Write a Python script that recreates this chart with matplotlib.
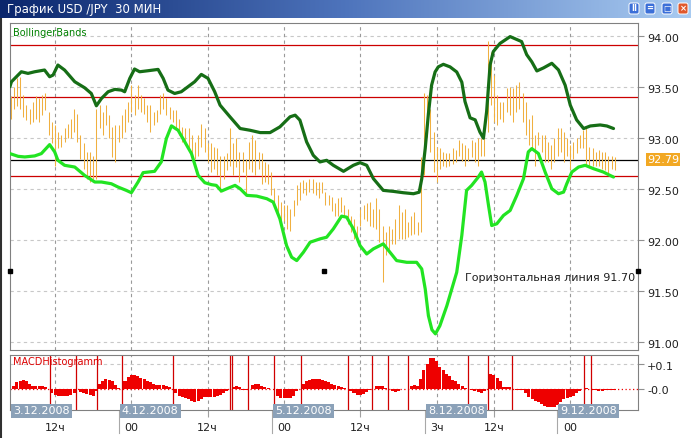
#!/usr/bin/env python3

# plotting
import matplotlib
matplotlib.use("Agg")
import numpy as np
import matplotlib.pyplot as plt
import matplotlib.transforms as mtransforms
from matplotlib.colors import LinearSegmentedColormap
from matplotlib.patches import FancyBboxPatch

## OUTPUT
OUTPUT = "out.png"
W, H = 691, 438

## DATA
# 30 minute bars (high / low), one entry per bar
bar_high = [93.41, 93.50, 93.59, 93.60, 93.42, 93.33, 93.29, 93.36, 93.41, 93.39,
            93.42, 93.44, 93.26, 93.16, 93.13, 93.06, 93.03, 93.10, 93.14, 93.19,
            93.29, 93.24, 93.03, 92.95, 92.86, 92.86, 92.83, 93.29, 93.33, 93.26,
            93.33, 93.23, 93.11, 93.13, 93.13, 93.23, 93.29, 93.36, 93.52, 93.42,
            93.52, 93.42, 93.39, 93.33, 93.33, 93.26, 93.28, 93.42, 93.44, 93.39,
            93.31, 93.28, 93.28, 93.19, 93.11, 93.10, 93.10, 93.03, 92.96, 93.03,
            93.14, 93.10, 92.95, 92.95, 92.91, 92.90, 92.83, 92.83, 92.85, 93.10,
            92.95, 93.00, 92.86, 92.86, 92.80, 92.96, 93.03, 92.98, 92.86, 92.85,
            92.77, 92.75, 92.67, 92.51, 92.44, 92.37, 92.34, 92.34, 92.31, 92.39,
            92.54, 92.57, 92.59, 92.57, 92.60, 92.60, 92.57, 92.57, 92.57, 92.47,
            92.44, 92.42, 92.36, 92.41, 92.42, 92.34, 92.31, 92.24, 92.21, 92.14,
            92.31, 92.34, 92.36, 92.37, 92.31, 92.41, 92.31, 92.14, 92.08, 92.14,
            92.11, 92.21, 92.34, 92.28, 92.31, 92.18, 92.24, 92.28, 92.18, 92.82,
            93.44, 93.42, 93.29, 93.06, 92.91, 92.90, 92.86, 92.85, 92.85, 92.90,
            92.88, 92.98, 92.95, 92.93, 92.90, 92.98, 92.96, 93.00, 93.00, 93.00,
            93.95, 93.85, 93.62, 93.42, 93.36, 93.36, 93.49, 93.50, 93.49, 93.52,
            93.55, 93.44, 93.36, 93.19, 93.23, 93.03, 93.06, 93.03, 93.03, 92.96,
            92.93, 93.00, 93.10, 93.10, 93.06, 93.00, 92.93, 92.96, 93.00, 93.03,
            93.08, 93.10, 92.91, 92.90, 92.86, 92.88, 92.86, 92.86, 92.83, 92.83,
            92.82]
bar_low = [93.19, 93.29, 93.32, 93.29, 93.21, 93.18, 93.14, 93.16, 93.19, 93.16,
           93.23, 93.28, 93.03, 92.95, 92.73, 92.90, 92.91, 92.96, 93.00, 93.00,
           93.06, 92.96, 92.80, 92.70, 92.60, 92.57, 92.60, 92.60, 93.10, 93.03,
           93.13, 93.00, 92.82, 92.77, 92.96, 93.00, 93.06, 93.16, 93.26, 93.23,
           93.29, 93.26, 93.24, 93.16, 93.06, 93.13, 93.16, 93.24, 93.29, 93.23,
           93.19, 93.16, 93.10, 93.03, 92.96, 92.95, 92.90, 92.83, 92.80, 92.83,
           92.91, 92.86, 92.77, 92.67, 92.70, 92.64, 92.47, 92.60, 92.69, 92.73,
           92.64, 92.72, 92.57, 92.67, 92.46, 92.70, 92.67, 92.64, 92.70, 92.55,
           92.57, 92.55, 92.44, 92.34, 92.24, 92.18, 92.19, 92.11, 92.09, 92.24,
           92.34, 92.39, 92.46, 92.44, 92.47, 92.46, 92.44, 92.41, 92.46, 92.34,
           92.34, 92.29, 92.24, 92.24, 92.28, 92.23, 92.16, 92.08, 92.01, 91.98,
           92.14, 92.21, 92.19, 92.14, 92.13, 92.11, 91.98, 91.59, 91.85, 91.91,
           91.96, 91.96, 92.01, 92.01, 92.01, 92.03, 92.05, 92.06, 92.05, 92.08,
           92.64, 93.01, 92.86, 92.67, 92.57, 92.70, 92.73, 92.72, 92.73, 92.75,
           92.77, 92.83, 92.78, 92.73, 92.78, 92.82, 92.77, 92.73, 92.83, 92.83,
           93.06, 93.33, 93.16, 93.13, 93.19, 93.16, 93.26, 93.23, 93.16, 93.26,
           93.29, 93.16, 93.03, 92.93, 92.90, 92.73, 92.93, 92.86, 92.77, 92.77,
           92.70, 92.77, 92.83, 92.86, 92.77, 92.83, 92.70, 92.80, 92.85, 92.90,
           92.90, 92.73, 92.73, 92.73, 92.73, 92.73, 92.70, 92.69, 92.64, 92.70,
           92.69]

# bollinger bands, read at (bar position, value)
upper_x = [-0.2, 0.3, 3.4, 5.5, 7.6, 10.7, 12.3, 13.4, 14.9, 17.0,
           20.2, 23.3, 25.4, 27.0, 28.6, 30.7, 32.8, 34.9, 35.9, 37.5,
           39.0, 40.6, 43.2, 46.4, 48.0, 49.5, 51.6, 53.7, 55.8, 57.9,
           60.0, 62.1, 64.2, 65.9, 69.0, 72.2, 75.3, 78.5, 81.6, 84.7,
           87.9, 89.5, 91.0, 93.1, 95.2, 97.3, 99.4, 101.5, 104.7, 107.8,
           109.9, 112.0, 114.1, 117.2, 120.4, 123.5, 126.7, 128.5, 129.3, 130.4,
           131.4, 132.4, 133.5, 134.5, 136.1, 138.2, 140.3, 141.9, 142.9, 144.5,
           146.1, 147.6, 148.7, 149.7, 150.8, 151.8, 153.9, 157.1, 160.7, 162.3,
           163.9, 165.5, 167.6, 170.2, 172.3, 174.4, 176.0, 178.0, 180.2, 182.3,
           185.4, 187.5, 189.6]
upper_val = [93.505, 93.554, 93.652, 93.636, 93.652, 93.669, 93.603, 93.620, 93.718, 93.669,
             93.554, 93.495, 93.439, 93.318, 93.390, 93.456, 93.479, 93.472, 93.456, 93.587,
             93.679, 93.652, 93.662, 93.675, 93.587, 93.472, 93.439, 93.456, 93.505, 93.554,
             93.626, 93.587, 93.456, 93.324, 93.210, 93.095, 93.078, 93.055, 93.055, 93.111,
             93.210, 93.226, 93.177, 92.964, 92.832, 92.767, 92.783, 92.734, 92.675, 92.734,
             92.760, 92.734, 92.603, 92.488, 92.478, 92.465, 92.455, 92.470, 92.600, 92.900,
             93.240, 93.520, 93.650, 93.700, 93.725, 93.700, 93.650, 93.550, 93.360, 93.200,
             93.180, 93.060, 93.000, 93.260, 93.720, 93.850, 93.930, 93.997, 93.948, 93.820,
             93.750, 93.660, 93.690, 93.735, 93.670, 93.520, 93.325, 93.180, 93.095, 93.120,
             93.130, 93.120, 93.095]
lower_x = [-0.2, 2.4, 4.5, 7.6, 9.7, 12.3, 13.9, 14.9, 17.0, 20.2,
           23.3, 26.5, 28.6, 31.7, 33.8, 36.4, 38.0, 40.1, 41.7, 45.3,
           47.4, 49.0, 50.6, 52.7, 54.8, 56.9, 59.0, 61.1, 63.2, 64.7,
           66.3, 68.0, 70.6, 72.2, 74.3, 77.4, 80.6, 82.6, 84.7, 86.8,
           88.4, 90.0, 92.1, 94.2, 97.3, 99.4, 101.5, 104.1, 105.7, 107.8,
           109.9, 112.0, 114.1, 117.2, 119.3, 121.4, 124.6, 127.7, 129.3, 130.4,
           131.4, 132.5, 133.6, 135.0, 137.2, 140.3, 141.9, 143.4, 145.0, 147.1,
           148.1, 149.2, 150.3, 151.3, 152.9, 155.0, 157.1, 159.2, 161.3, 162.8,
           163.9, 166.0, 168.1, 170.2, 172.3, 173.9, 174.9, 176.5, 178.6, 180.7,
           183.3, 186.4, 188.5, 189.6]
lower_val = [92.849, 92.822, 92.816, 92.826, 92.849, 92.937, 92.865, 92.783, 92.734, 92.717,
             92.635, 92.570, 92.570, 92.553, 92.521, 92.488, 92.465, 92.570, 92.662, 92.675,
             92.767, 92.996, 93.121, 93.078, 92.964, 92.849, 92.635, 92.563, 92.544, 92.537,
             92.481, 92.504, 92.537, 92.504, 92.439, 92.432, 92.406, 92.373, 92.209, 91.946,
             91.832, 91.799, 91.881, 91.979, 92.012, 92.028, 92.110, 92.235, 92.225, 92.110,
             91.946, 91.864, 91.914, 91.963, 91.881, 91.799, 91.782, 91.782, 91.717, 91.520,
             91.258, 91.120, 91.080, 91.159, 91.356, 91.684, 92.045, 92.488, 92.537, 92.619,
             92.668, 92.570, 92.340, 92.143, 92.160, 92.242, 92.291, 92.439, 92.603, 92.865,
             92.898, 92.849, 92.668, 92.504, 92.455, 92.471, 92.553, 92.668, 92.717, 92.734,
             92.701, 92.668, 92.635, 92.619]

# macd histogram, one value per bar
macd = [0.000, 0.010, 0.025, 0.033, 0.034, 0.030, 0.020, 0.012, 0.012, 0.011,
        0.010, 0.008, 0.000, -0.020, -0.028, -0.032, -0.033, -0.032, -0.030, -0.028,
        -0.020, -0.003, -0.015, -0.020, -0.022, -0.027, -0.030, -0.010, 0.020, 0.032,
        0.040, 0.037, 0.030, 0.015, 0.003, 0.000, 0.030, 0.048, 0.055, 0.054,
        0.050, 0.045, 0.038, 0.030, 0.025, 0.020, 0.015, 0.016, 0.014, 0.010,
        0.006, 0.000, -0.020, -0.030, -0.035, -0.040, -0.045, -0.050, -0.055, -0.050,
        -0.042, -0.035, -0.035, -0.035, -0.035, -0.030, -0.025, -0.020, -0.010, 0.000,
        0.008, 0.010, 0.005, -0.005, -0.008, 0.000, 0.015, 0.020, 0.018, 0.012,
        0.005, 0.003, 0.000, 0.000, -0.030, -0.038, -0.040, -0.040, -0.038, -0.030,
        -0.010, 0.000, 0.020, 0.030, 0.037, 0.040, 0.040, 0.038, 0.035, 0.030,
        0.025, 0.020, 0.015, 0.010, 0.006, 0.002, 0.000, -0.010, -0.018, -0.025,
        -0.027, -0.024, -0.015, -0.005, 0.000, 0.010, 0.012, 0.010, 0.004, 0.000,
        -0.012, -0.015, -0.010, -0.004, 0.000, 0.000, 0.012, 0.013, 0.010, 0.040,
        0.075, 0.100, 0.125, 0.128, 0.115, 0.090, 0.075, 0.060, 0.050, 0.035,
        0.030, 0.020, 0.010, 0.003, 0.000, -0.008, -0.010, -0.015, -0.020, -0.010,
        0.000, 0.060, 0.055, 0.045, 0.030, 0.008, 0.007, 0.005, 0.000, -0.005,
        -0.005, -0.005, -0.020, -0.035, -0.045, -0.050, -0.055, -0.065, -0.072, -0.078,
        -0.078, -0.077, -0.070, -0.055, -0.045, -0.040, -0.035, -0.030, -0.020, -0.010,
        0.000, 0.002, 0.000, -0.008, -0.008, -0.009, -0.009, -0.008, -0.008, -0.007,
        -0.006]
# red signal lines in the macd panel (bar position)
signal_x = [12.4, 20.6, 27.2, 35.1, 51.1, 69.0, 69.7, 74.7, 82.9, 91.4,
            106.1, 113.7, 118.7, 125.0, 143.9, 150.2, 157.7, 180.3, 182.5]

# levels
red_levels = [93.915, 93.405, 92.63]
last_price = 92.79
hline_level = 91.70

# axes
price_ticks = [91.0, 91.5, 92.0, 92.5, 93.0, 93.5, 94.0]
macd_ticks = [0.0, 0.1]
macd_labels = ["-0.0", "+0.1"]
grid_x = [14, 38, 62, 86, 110, 134, 152, 176]
time_labels = ["12ч", "00", "12ч", "00", "12ч", "3ч", "12ч", "00"]
day_x = [-0.16, 34.1, 82.2, 130.3, 171.8]
day_labels = ["3.12.2008", "4.12.2008", "5.12.2008", "8.12.2008", "9.12.2008"]

TITLE = "График USD /JPY  30 МИН"
XLIM = (-0.16, 197.3)


def fig_rect(x0, y0, x1, y1):
    # pixel box (top-left origin) -> figure fraction
    return [x0 / W, 1 - y1 / H, (x1 - x0) / W, (y1 - y0) / H]


def shift_labels(ax, fig, dy_px):
    for label in ax.get_yticklabels():
        label.set_transform(label.get_transform() + mtransforms.ScaledTranslation(0, dy_px / 100, fig.dpi_scale_trans))


def main():
    plt.rcParams['font.family'] = ['DejaVu Sans']
    fig = plt.figure(figsize=(W / 100, H / 100), dpi=100)
    fig.patch.set_facecolor("white")

    # window frame
    ax_bg = fig.add_axes([0, 0, 1, 1], zorder=-5)
    ax_bg.set_xlim(0, W)
    ax_bg.set_ylim(H, 0)
    ax_bg.set_axis_off()
    ax_bg.plot([1, 1], [18, H], color="#303030", lw=1.5)

    # title bar
    ax_bar = fig.add_axes(fig_rect(0, 0, W, 18))
    cmap = LinearSegmentedColormap.from_list("bar", ["#0a266c", "#4e74bc", "#a9cbf1"])
    ax_bar.imshow(np.linspace(0, 1, 256).reshape(1, -1), aspect="auto", cmap=cmap, extent=[0, W, 18, 0])
    ax_bar.set_xlim(0, W)
    ax_bar.set_ylim(18, 0)
    ax_bar.set_axis_off()
    ax_bar.text(7, 9, TITLE, color="white", fontsize=8.5, va="center", ha="left")
    for x0, col, glyph in [(629, "#3b6fd8", "II"), (645, "#3b6fd8", "="), (662, "#3b6fd8", "□"), (678, "#e0582c", "×")]:
        ax_bar.add_patch(FancyBboxPatch((x0, 3), 10, 11, boxstyle="round,pad=0,rounding_size=2",
                                        fc=col, ec="white", lw=0.7))
        ax_bar.text(x0 + 5, 8.7, glyph, color="white", fontsize=6, fontweight="bold", ha="center", va="center")

    idx = np.arange(len(bar_high))

    # main chart
    ax = fig.add_axes(fig_rect(10, 23, 638, 350))
    ax.set_xlim(*XLIM)
    ax.set_ylim(94 - (350 - 36.3) / 101.9, 94 + (36.3 - 23) / 101.9)
    for y in price_ticks:
        ax.axhline(y, color="#c8c8c8", lw=0.8, ls=(0, (3, 3)), zorder=0.5)
    for x in grid_x:
        ax.axvline(x, color="#9a9a9a", lw=0.8, ls=(0, (3, 3)), zorder=0.5)
    for y in red_levels:
        ax.axhline(y, color="#cc0000", lw=0.9, zorder=1)
    ax.axhline(last_price, color="black", lw=0.9, zorder=1)
    ax.vlines(idx, bar_low, bar_high, color="#f0b040", lw=0.75, zorder=2)
    ax.plot(upper_x, upper_val, color="#166e16", lw=2.3, solid_joinstyle="round", solid_capstyle="round", zorder=3)
    ax.plot(lower_x, lower_val, color="#22e422", lw=2.3, solid_joinstyle="round", solid_capstyle="round", zorder=3)

    blend = mtransforms.blended_transform_factory(ax.transAxes, ax.transData)
    ax.plot([0, 0.5, 1.0], [hline_level] * 3, transform=blend, ls="none", marker="s", ms=3.5,
            color="black", clip_on=False, zorder=4)
    ax.text(0.996, hline_level - 0.02, "Горизонтальная линия {:.2f}".format(hline_level), transform=blend,
            ha="right", va="top", fontsize=8, color="#202020")
    ax.annotate("{:.2f}".format(last_price), xy=(1, last_price), xycoords=blend, xytext=(6.5, 0),
                textcoords="offset points", ha="left", va="center", fontsize=8, color="white",
                bbox=dict(boxstyle="square,pad=0.1", fc="#f2a823", ec="none"), annotation_clip=False)
    ax.text(0.004, 0.985, "BollingerBands", transform=ax.transAxes, ha="left", va="top", fontsize=7, color="#008000")

    ax.yaxis.tick_right()
    ax.set_yticks(price_ticks)
    ax.set_yticklabels(["{:.2f}".format(v) for v in price_ticks])
    ax.tick_params(axis="y", length=4, color="#909090", labelsize=8, labelcolor="#202020", pad=2.5)
    ax.tick_params(axis="x", bottom=False, labelbottom=False)
    for s in ax.spines.values():
        s.set_color("#808080")
    shift_labels(ax, fig, -2)

    # macd panel
    ax2 = fig.add_axes(fig_rect(10, 355, 638, 410))
    ax2.set_xlim(*XLIM)
    ax2.set_ylim(-(410 - 388.5) / 242, (388.5 - 355) / 242)
    ax2.axhline(0.1, color="#c8c8c8", lw=0.8, ls=(0, (3, 3)), zorder=0.5)
    for x in grid_x:
        ax2.axvline(x, color="#9a9a9a", lw=0.8, ls=(0, (3, 3)), zorder=0.5)
    ax2.bar(idx, macd, width=0.95, color="#ee0000", lw=0, zorder=2)
    ax2.axhline(0, color="#ee0000", lw=0.9, ls=(0, (1, 2)), zorder=1)
    for x in signal_x:
        ax2.axvline(x, color="#d00000", lw=0.9, zorder=2)
    ax2.text(0.004, 0.97, "MACDHistogramm", transform=ax2.transAxes, ha="left", va="top", fontsize=7, color="#dd0000")

    ax2.yaxis.tick_right()
    ax2.set_yticks(macd_ticks)
    ax2.set_yticklabels(macd_labels)
    ax2.tick_params(axis="y", length=4, color="#909090", labelsize=8, labelcolor="#202020", pad=2.5)
    ax2.set_xticks(grid_x)
    ax2.tick_params(axis="x", length=5, color="#a0a0a0", labelbottom=False)
    for s in ax2.spines.values():
        s.set_color("#808080")
    shift_labels(ax2, fig, -2)

    # time axis
    blend2 = mtransforms.blended_transform_factory(ax2.transData, ax2.transAxes)
    for x, lab in zip(grid_x, time_labels):
        ax2.text(x, -0.33, lab, transform=blend2, ha="center", va="center", fontsize=8, color="#202020", clip_on=False)
    for x in day_x[1:]:
        ax2.plot([x, x], [0, -0.42], transform=blend2, color="#a8a8a8", lw=0.8, clip_on=False)
    for x, lab in zip(day_x, day_labels):
        ax2.text(x + 0.9, -0.02, lab, transform=blend2, ha="left", va="center", fontsize=8, color="white",
                 clip_on=False, zorder=5, bbox=dict(boxstyle="square,pad=0.2", fc="#8ba1b8", ec="none"))

    fig.savefig(OUTPUT, dpi=100)


if __name__ == '__main__':
    main()
